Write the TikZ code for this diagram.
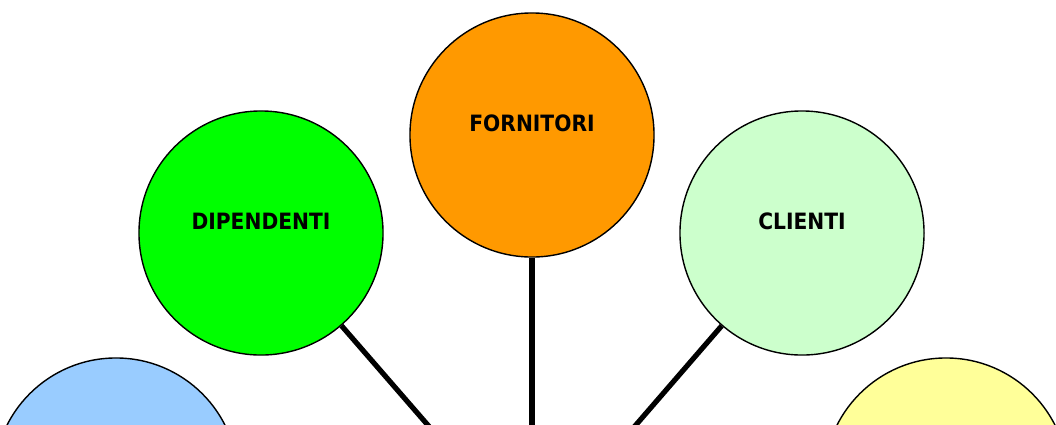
\documentclass[tikz,border=0pt]{standalone}
\usepackage{fontspec}
\newfontfamily\kfont{DejaVu Sans Condensed}
\definecolor{korange}{RGB}{255,153,0}
\definecolor{kgreen}{RGB}{0,255,0}
\definecolor{klgreen}{RGB}{204,255,204}
\definecolor{kblue}{RGB}{153,204,255}
\definecolor{kyellow}{RGB}{255,255,153}
\tikzset{
  cerchio/.style={circle,draw=black,line width=1pt,minimum size=6.1cm,inner sep=0pt},
  braccio/.style={line width=3.7pt,black},
  etichetta/.style={font=\kfont\bfseries\fontsize{16}{19}\selectfont,yshift=0.3cm}
}
\begin{document}
\begin{tikzpicture}[x=0.025cm,y=-0.025cm]
\useasboundingbox (0,0) rectangle (1056,424);
\coordinate (hub) at (532,545);
\foreach \kn/\kx/\ky/\kc/\klb in {dip/261/233/kgreen/DIPENDENTI,forn/532/135/korange/FORNITORI,cli/802/233/klgreen/CLIENTI,sx/116/480/kblue/{},dx/946/480/kyellow/{}}{\node[cerchio,fill=\kc,label={[etichetta]center:\klb}] (\kn) at (\kx,\ky) {};}
\foreach \kn in {dip,forn,cli}{\draw[braccio] (hub)--(\kn);}
\end{tikzpicture}
\end{document}
